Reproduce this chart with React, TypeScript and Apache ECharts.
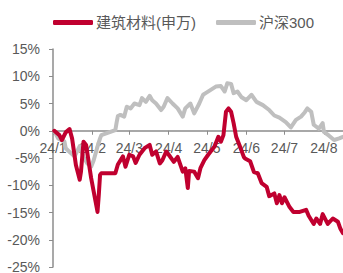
import React, { useEffect, useRef } from "react";
import * as echarts from "echarts";

const seriesNames = ["建筑材料(申万)", "沪深300"];

const redDates = [
  "01-02","01-06","01-08","01-11","01-14","01-16","01-19","01-22","01-23","01-25","01-27","01-31",
  "02-05","02-06","02-07","02-08","02-19","02-21","02-25","02-27","03-01","03-04","03-06","03-09",
  "03-13","03-17","03-19","03-22","03-25","03-27","03-30","04-01","04-05","04-08","04-12","04-14",
  "04-16","04-17","04-21","04-24","04-26","04-29","05-02","05-05","05-07","05-10","05-12","05-14",
  "05-16","05-18","05-20","05-22","05-24","05-27","05-30","05-31","06-04","06-07","06-10","06-13",
  "06-17","06-19","06-23","06-25","06-27","06-29","07-01","07-05","07-08","07-10","07-13","07-18",
  "07-20","07-24","07-26","07-29","07-31","08-04","08-08","08-12","08-14","08-16"
];
const redValues = [
  0.0,-0.8,-1.7,-0.3,0.3,-1.4,-6.3,-9.0,-7.5,-2.0,-2.6,-8.7,
  -14.9,-11.8,-8.1,-7.8,-7.8,-6.2,-4.7,-6.6,-4.4,-4.7,-5.9,-4.4,
  -3.2,-2.6,-4.4,-3.8,-6.0,-5.4,-3.8,-4.4,-5.7,-4.8,-7.5,-6.9,
  -10.5,-7.4,-7.5,-8.7,-6.8,-5.4,-4.4,-3.5,-2.9,-1.1,-2.0,-0.8,
  3.5,4.1,3.5,1.4,-1.1,-2.9,-4.8,-5.1,-5.6,-7.6,-7.8,-9.6,
  -10.3,-12.0,-11.5,-13.3,-11.8,-13.3,-12.2,-14.0,-14.9,-14.9,-14.9,-14.5,
  -15.6,-17.1,-16.1,-17.1,-15.3,-17.1,-16.1,-16.7,-18.0,-18.8
];

const grayDates = [
  "01-02","01-05","01-10","01-11","01-15","01-18","01-22","01-25","01-28","01-31","02-02","02-05",
  "02-07","02-08","02-19","02-20","02-21","02-23","02-26","02-28","03-02","03-05","03-09","03-11",
  "03-14","03-17","03-19","03-22","03-26","03-28","03-31","04-04","04-08","04-12","04-14","04-18",
  "04-21","04-25","04-28","04-30","05-04","05-08","05-12","05-15","05-17","05-20","05-22","05-25",
  "05-28","06-01","06-05","06-09","06-14","06-19","06-23","06-27","07-02","07-06","07-10","07-14",
  "07-17","07-19","07-22","07-24","07-28","07-31","08-01","08-05","08-09","08-13","08-16"
];
const grayValues = [
  0.0,-1.4,-2.0,-3.2,-4.1,-4.7,-2.8,-4.8,-6.0,-6.6,-5.4,-2.9,
  -1.4,-0.8,0.1,1.5,2.7,2.9,2.6,4.4,4.1,5.0,4.7,6.0,
  5.3,6.4,5.6,5.0,3.8,4.4,6.0,5.0,4.1,2.6,4.1,5.0,
  3.2,5.0,6.6,6.9,7.5,8.1,8.2,7.2,8.7,8.6,6.9,7.2,
  6.2,5.6,6.6,5.3,4.7,3.8,2.8,2.4,1.6,0.6,2.0,2.6,
  3.4,4.1,3.5,1.1,0.4,1.4,-0.2,-0.9,-1.7,-1.4,-1.1
];

const yTicks = { min: -25, max: 15, interval: 5 };
const axisStart = "2024-01-01";
const axisEnd = "2024-08-16";

function buildDays(start: string, end: string): string[] {
  const out: string[] = [];
  const d = new Date(start + "T00:00:00Z");
  const e = new Date(end + "T00:00:00Z");
  while (d.getTime() <= e.getTime()) {
    const m = String(d.getUTCMonth() + 1).padStart(2, "0");
    const day = String(d.getUTCDate()).padStart(2, "0");
    out.push(`2024-${m}-${day}`);
    d.setUTCDate(d.getUTCDate() + 1);
  }
  return out;
}

const FONT = "Liberation Sans, Arial, Noto Sans CJK SC, sans-serif";
const GRID_TOP = 49;
const GRID_H = 218;

export default function App() {
  const ref = useRef<HTMLDivElement>(null);
  useEffect(() => {
    if (!ref.current) return;
    const chart = echarts.init(ref.current, undefined, { renderer: "svg" });
    const days = buildDays(axisStart, axisEnd);
    const isMonthStart = (_i: number, v: string) => v.endsWith("-01");
    const red = redDates.map((d, i) => ["2024-" + d, redValues[i]]);
    const gray = grayDates.map((d, i) => ["2024-" + d, grayValues[i]]);
    // distance from the bottom of the grid to the zero line
    const zeroFromBottom = (GRID_H * (0 - yTicks.min)) / (yTicks.max - yTicks.min);
    chart.setOption({
      animation: false,
      legend: {
        data: seriesNames,
        left: 48,
        top: 10,
        icon: "roundRect",
        itemWidth: 40,
        itemHeight: 5,
        itemGap: 20,
        textStyle: { fontSize: 15, color: "#595959", fontFamily: FONT, padding: [0, 0, 0, -2] },
      },
      grid: {
        left: 53,
        right: 0,
        top: GRID_TOP,
        height: GRID_H,
        containLabel: false,
        outerBoundsMode: "none",
      },
      xAxis: {
        type: "category",
        data: days,
        boundaryGap: false,
        position: "bottom",
        offset: -zeroFromBottom,
        axisLine: { onZero: false, lineStyle: { color: "#8c8c8c", width: 1.5 } },
        axisTick: { interval: isMonthStart, length: 4, lineStyle: { color: "#8c8c8c" } },
        axisLabel: {
          interval: isMonthStart,
          margin: 10,
          fontSize: 14,
          color: "#595959",
          fontFamily: FONT,
          formatter: (v: string) => `24/${parseInt(v.slice(5, 7), 10)}`,
        },
        splitLine: { show: false },
      },
      yAxis: {
        type: "value",
        min: yTicks.min,
        max: yTicks.max,
        interval: yTicks.interval,
        axisLine: { show: true, lineStyle: { color: "#8c8c8c", width: 1.5 } },
        axisTick: { show: true, length: 4, lineStyle: { color: "#8c8c8c" } },
        axisLabel: {
          margin: 13,
          fontSize: 14,
          color: "#595959",
          fontFamily: FONT,
          formatter: (v: number) => `${v}%`,
        },
        splitLine: { show: false },
      },
      series: [
        {
          name: seriesNames[1],
          type: "line",
          data: gray,
          showSymbol: false,
          symbol: "none",
          itemStyle: { color: "#BFBFBF" },
          lineStyle: { color: "#BFBFBF", width: 4, cap: "round", join: "round" },
          z: 2,
        },
        {
          name: seriesNames[0],
          type: "line",
          data: red,
          showSymbol: false,
          symbol: "none",
          itemStyle: { color: "#C0002F" },
          lineStyle: { color: "#C0002F", width: 4, cap: "round", join: "round" },
          z: 3,
        },
      ],
    });
    return () => chart.dispose();
  }, []);
  return (
    <div
      ref={ref}
      style={{ position: "fixed", left: 0, top: 0, width: 343, height: 273, background: "#fff" }}
    />
  );
}
